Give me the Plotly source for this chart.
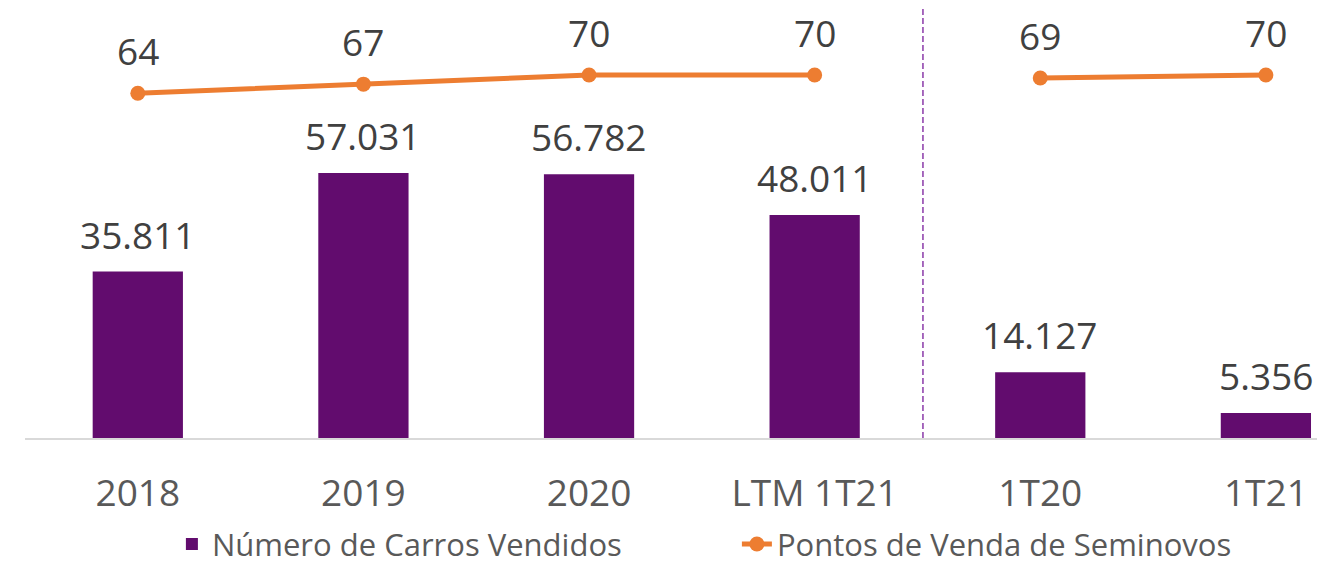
import plotly.graph_objects as go

categories = ["2018", "2019", "2020", "LTM 1T21", "1T20", "1T21"]
carros = [35811, 57031, 56782, 48011, 14127, 5356]
carros_labels = ["35.811", "57.031", "56.782", "48.011", "14.127", "5.356"]
pontos = [64, 67, 70, 70, 69, 70]

PURPLE = "#620C6E"
ORANGE = "#ED7D31"
TXT = "#404040"
FONT = "Open Sans"

fig = go.Figure()
fig.add_trace(go.Bar(x=categories, y=carros, name="Número de Carros Vendidos",
                     marker=dict(color=PURPLE, line=dict(width=0)), width=0.4))
fig.add_trace(go.Scatter(x=categories[:4], y=pontos[:4], name="Pontos de Venda de Seminovos",
                         mode="lines+markers", yaxis="y2",
                         line=dict(color=ORANGE, width=5), marker=dict(size=15, color=ORANGE)))
fig.add_trace(go.Scatter(x=categories[4:], y=pontos[4:], showlegend=False,
                         mode="lines+markers", yaxis="y2",
                         line=dict(color=ORANGE, width=5), marker=dict(size=15, color=ORANGE)))

for i, (v, t) in enumerate(zip(carros, carros_labels)):
    fig.add_annotation(x=i, y=v, text=t, showarrow=False, yanchor="bottom", yshift=10,
                       font=dict(size=37, color=TXT, family=FONT))
for i, v in enumerate(pontos):
    fig.add_annotation(x=i, y=v, yref="y2", text=str(v), showarrow=False, yanchor="bottom",
                       yshift=15, font=dict(size=37, color=TXT, family=FONT))

fig.add_shape(type="line", xref="x", yref="paper", x0=3.48, x1=3.48, y0=0, y1=1,
              line=dict(color="#8A3AA8", width=1.5, dash="6px,3px"))

fig.update_layout(
    width=1317, height=557,
    margin=dict(l=17, r=0, t=0, b=127, autoexpand=False),
    plot_bgcolor="white", paper_bgcolor="white",
    font=dict(family=FONT, color=TXT),
    xaxis=dict(type="category", range=[-0.5, 5.262], showline=True, linecolor="#D9D9D9",
               linewidth=1.5, ticks="outside", ticklen=22, tickcolor="rgba(0,0,0,0)",
               tickfont=dict(size=37, color="#595959", family=FONT), showgrid=False,
               automargin=False),
    yaxis=dict(range=[0, 92540], visible=False, showgrid=False),
    yaxis2=dict(range=[-49, 91.97], overlaying="y", visible=False, showgrid=False),
    legend=dict(orientation="h", x=0.113, xanchor="left", yref="container",
                y=0.037, yanchor="middle", entrywidth=520,
                font=dict(size=31, color="#595959", family=FONT)),
    showlegend=True,
)

fig.write_html("out.html")
